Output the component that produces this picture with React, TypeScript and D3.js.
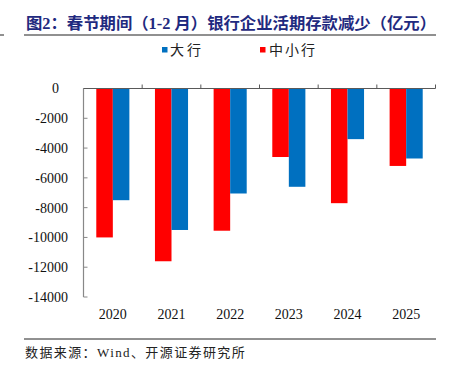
import * as d3 from 'd3';

// ---------------------------------------------------------------------------
// Data (亿元)
// ---------------------------------------------------------------------------
const YEARS = ['2020', '2021', '2022', '2023', '2024', '2025'];
const SMALL_BANKS = [-10000, -11600, -9550, -4600, -7700, -5200]; // 中小行
const BIG_BANKS = [-7500, -9500, -7050, -6600, -3400, -4700]; // 大行
const Y_TICKS = [0, -2000, -4000, -6000, -8000, -10000, -12000, -14000];

const TITLE = '图2：春节期间（1-2 月）银行企业活期存款减少（亿元）';
const SOURCE = '数据来源：Wind、开源证券研究所';

const RED = '#ff0000';
const BLUE = '#0070c0';
const NAVY = '#1f2a80';
const AXIS = '#595959';
const FONT = '"Liberation Serif", "Noto Sans CJK SC", serif';

const W = 450;
const H = 371;
const margin = { left: 83.5, right: 14.5, top: 88.5, bottom: 74 };

export default function App() {
  const x = d3
    .scaleBand<string>()
    .domain(YEARS)
    .range([margin.left, W - margin.right])
    .paddingInner(0)
    .paddingOuter(0);
  const y = d3.scaleLinear().domain([0, -14000]).range([margin.top, H - margin.bottom]);

  const bw = x.bandwidth();
  const barW = bw * 0.282;
  const series = [
    { name: '中小行', values: SMALL_BANKS, color: RED, off: -barW },
    { name: '大行', values: BIG_BANKS, color: BLUE, off: 0 },
  ];
  const y0 = y(0);

  return (
    <svg
      width={W}
      height={H}
      style={{ position: 'absolute', left: 0, top: 0, background: '#fff' }}
      fontFamily={FONT}
    >
      {/* title */}
      <text x={26} y={29} fontSize={16} fontWeight="bold" fill={NAVY} textLength={410} lengthAdjust="spacingAndGlyphs">
        {TITLE}
      </text>
      <line x1={24} x2={436} y1={35} y2={35} stroke="#222" strokeWidth={1.2} />
      <line x1={0} x2={4} y1={35} y2={35} stroke="#222" strokeWidth={1} />

      {/* legend */}
      <rect x={162} y={47} width={5.5} height={5.5} fill={BLUE} />
      <text x={170} y={55} fontSize={14} fill="#222" letterSpacing={3}>大行</text>
      <rect x={260} y={47} width={5.5} height={5.5} fill={RED} />
      <text x={269} y={55} fontSize={14} fill="#222" letterSpacing={2}>中小行</text>

      {/* bars */}
      {series.map((s) =>
        s.values.map((v, i) => {
          const cx = (x(YEARS[i]) ?? 0) + bw / 2;
          return (
            <rect
              key={s.name + i}
              x={cx + s.off}
              y={y0}
              width={barW}
              height={y(v) - y0}
              fill={s.color}
            />
          );
        })
      )}

      {/* y axis */}
      <line x1={margin.left} x2={margin.left} y1={y0} y2={y(-14000)} stroke="#888" strokeWidth={1.2} />
      {Y_TICKS.map((t) => (
        <g key={t}>
          <line x1={margin.left} x2={margin.left + 4} y1={y(t)} y2={y(t)} stroke="#888" />
          <text x={t === 0 ? 59 : 68} y={y(t)} dy="0.35em" textAnchor="end" fontSize={14} fill="#111">
            {t}
          </text>
        </g>
      ))}

      {/* category axis at zero */}
      <line x1={margin.left} x2={W - margin.right} y1={y0} y2={y0} stroke={AXIS} strokeWidth={1.2} />
      {YEARS.map((yr) => {
        const right = (x(yr) ?? 0) + bw;
        return <line key={'t' + yr} x1={right} x2={right} y1={y0} y2={y0 - 4} stroke={AXIS} />;
      })}
      {YEARS.map((yr) => (
        <text key={yr} x={(x(yr) ?? 0) + bw / 2} y={319} textAnchor="middle" fontSize={14} fill="#111">
          {yr}
        </text>
      ))}

      {/* source */}
      <line x1={24} x2={436} y1={339} y2={339} stroke="#222" strokeWidth={1} />
      <text x={25} y={357} fontSize={13} fill="#222" letterSpacing={1.4}>
        {SOURCE}
      </text>
    </svg>
  );
}
